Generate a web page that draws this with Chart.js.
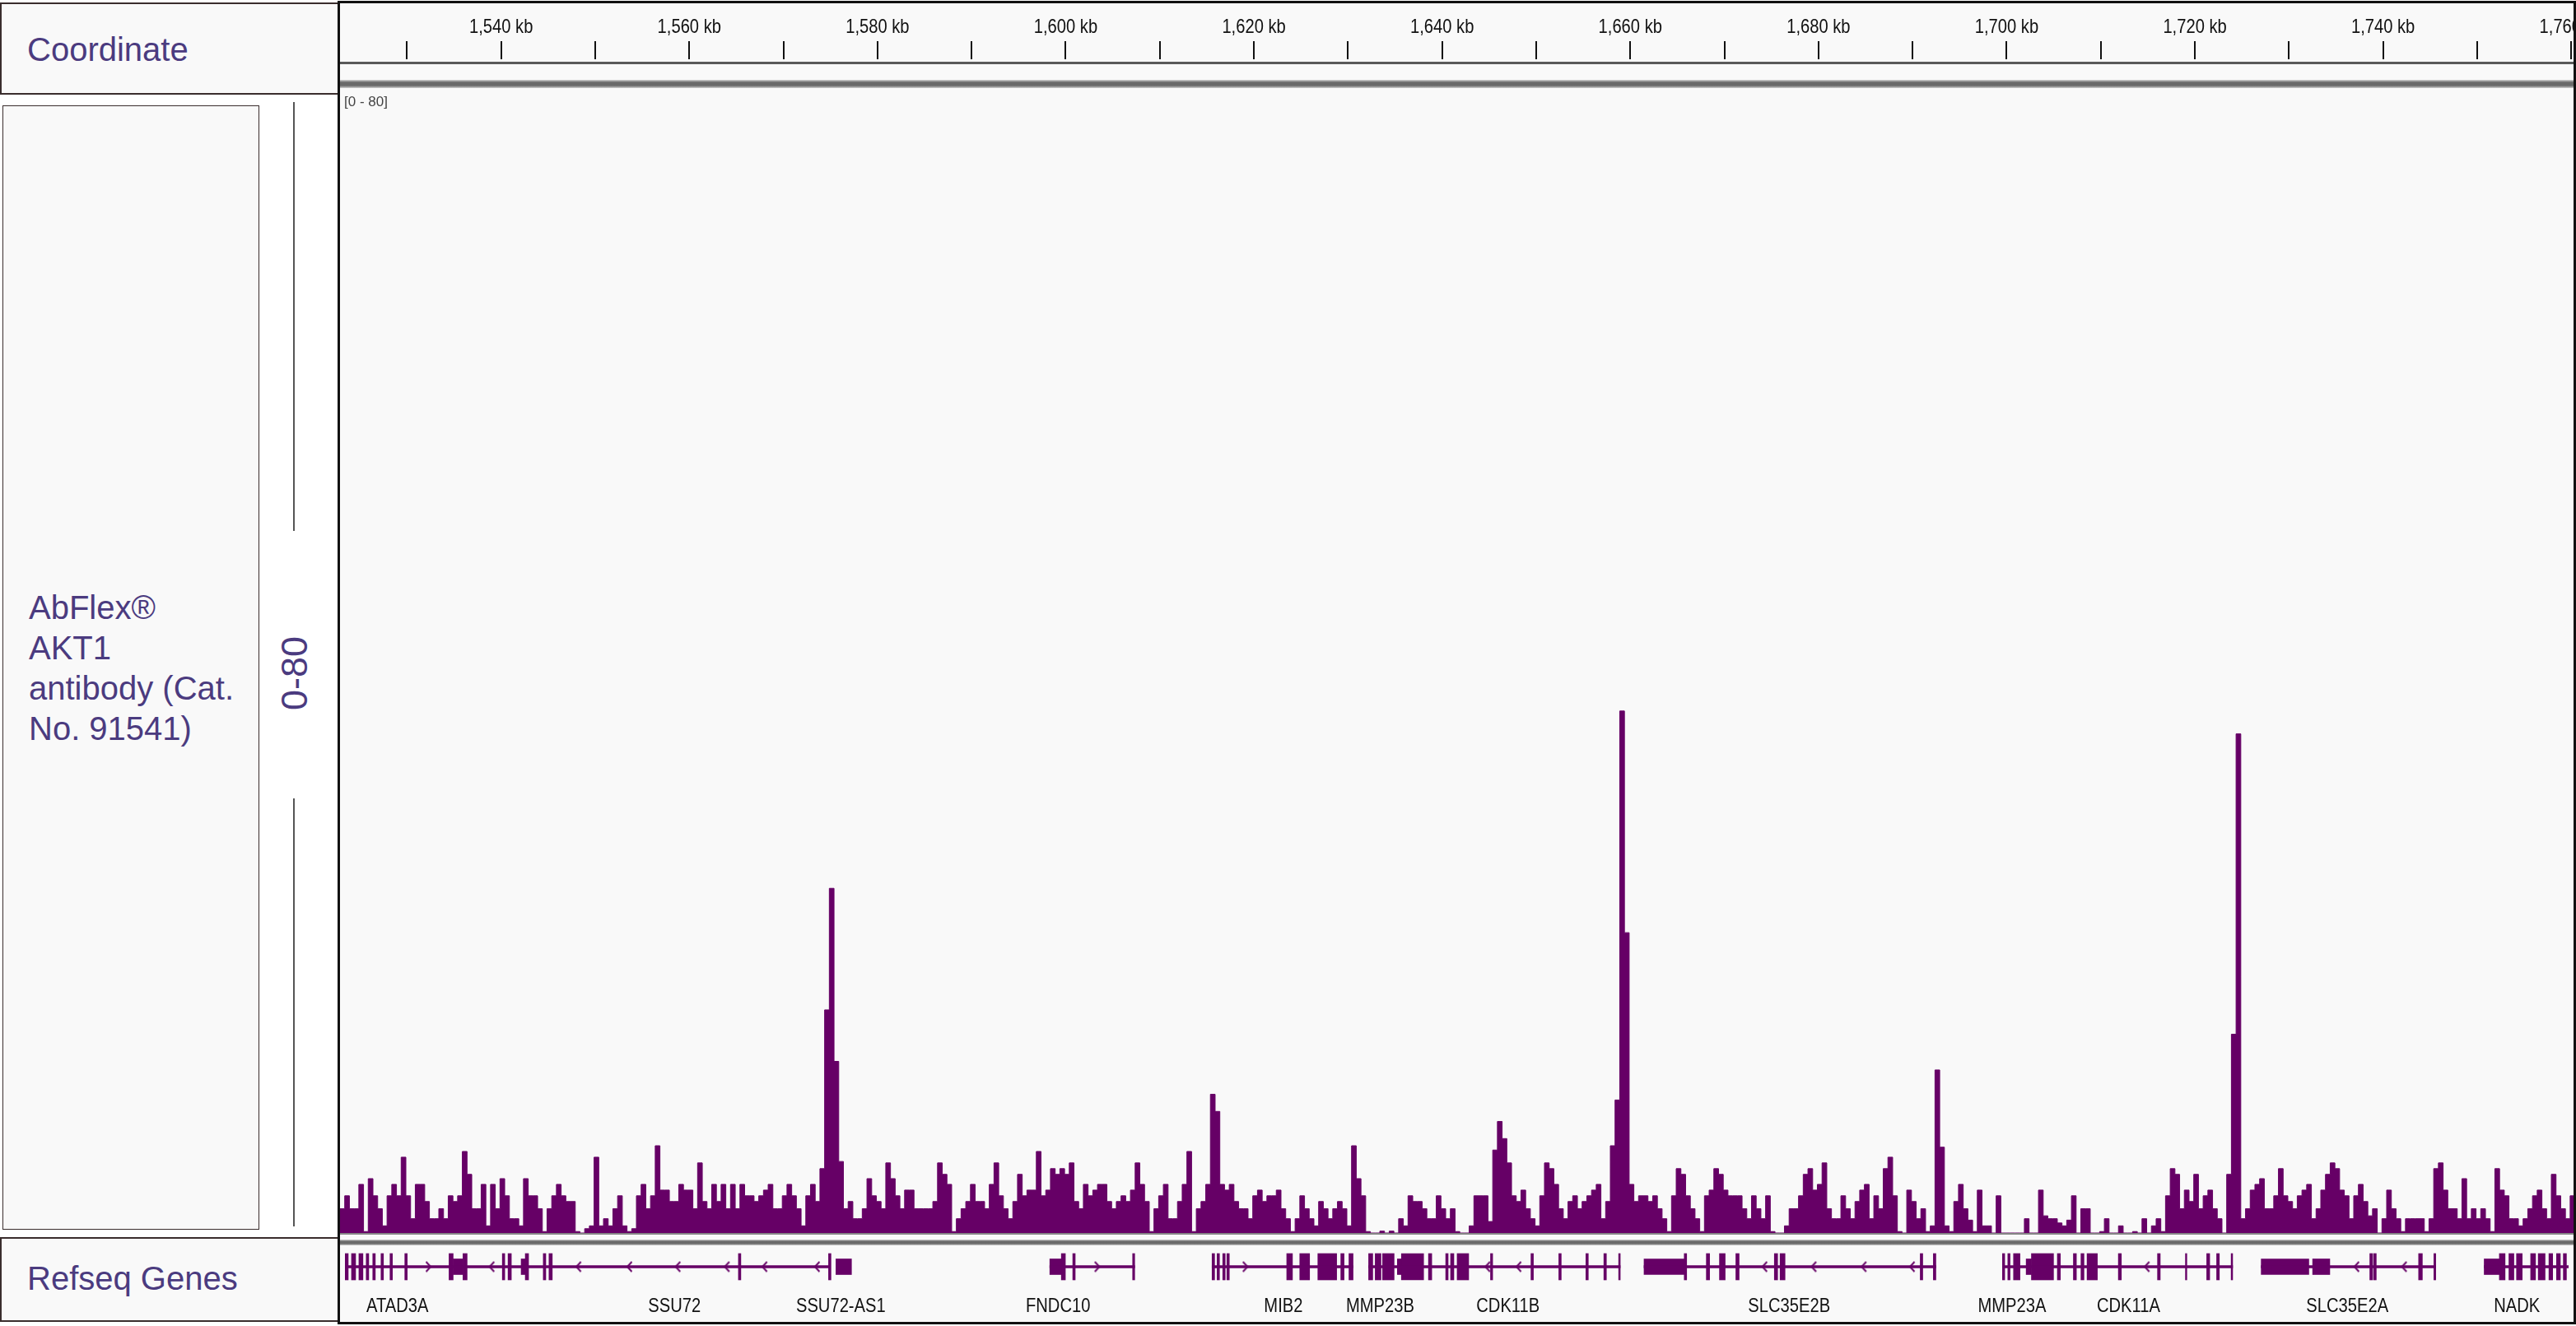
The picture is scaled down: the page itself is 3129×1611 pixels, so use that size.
<!DOCTYPE html>
<html>
<head>
<meta charset="utf-8">
<script src="https://cdn.jsdelivr.net/npm/chart.js@4.4.1/dist/chart.umd.min.js"></script>
<style>
html,body{margin:0;padding:0;background:#fff;}
#page{position:relative;width:3129px;height:1611px;overflow:hidden;background:#fff;font-family:"Liberation Sans",Arial,sans-serif;}
.box{position:absolute;box-sizing:border-box;background:#f9f9f9;border:2px solid #3a2d2d;}
.ptxt{position:absolute;color:#4b3b7f;font-size:40px;line-height:49px;white-space:nowrap;}
canvas{position:absolute;}
.deco{position:absolute;}
</style>
</head>
<body>
<div id="page">
  <div class="box" style="left:0;top:3px;width:412px;height:112px;"></div>
  <div class="ptxt" style="left:33px;top:36px;">Coordinate</div>

  <div class="box" style="left:3px;top:128px;width:312px;height:1366px;border-width:1.5px;"></div>
  <div class="ptxt" style="left:35px;top:714px;">AbFlex®<br>AKT1<br>antibody (Cat.<br>No. 91541)</div>

  <div class="deco" style="left:356px;top:124px;width:2px;height:521px;background:#555;"></div>
  <div class="deco" style="left:356px;top:970px;width:2px;height:520px;background:#555;"></div>
  <div class="ptxt" style="left:357px;top:818px;font-size:45px;line-height:45px;transform:translate(-50%,-50%) rotate(-90deg);">0-80</div>

  <div class="box" style="left:0;top:1503px;width:412px;height:103px;"></div>
  <div class="ptxt" style="left:33px;top:1529px;">Refseq Genes</div>

  <div class="deco" style="left:410px;top:1px;width:2719px;height:1608px;background:#f9f9f9;z-index:0;"></div>

  <canvas id="ruler" width="2713" height="76" style="left:413px;top:4px;z-index:1;"></canvas>
  <canvas id="signal" width="2713" height="1390" style="left:413px;top:108px;z-index:1;"></canvas>
  <canvas id="genes" width="2713" height="100" style="left:413px;top:1511px;z-index:1;"></canvas>

  <div class="deco" style="left:412px;top:75px;width:2714px;height:3px;background:#5a5a5a;z-index:2;"></div>
  <div class="deco" style="left:412px;top:97px;width:2714px;height:10px;background:linear-gradient(#d6d6d6,#6a6a6a 30%,#6a6a6a 70%,#cfcfcf);z-index:2;"></div>
  <div id="rangeLbl" class="deco" style="left:418px;top:114px;font-size:18px;color:#444;z-index:2;">[0 - 80]</div>
  <div class="deco" style="left:412px;top:1498px;width:2714px;height:2px;background:#858585;z-index:2;"></div>
  <div class="deco" style="left:412px;top:1506px;width:2714px;height:7px;background:linear-gradient(#d6d6d6,#6a6a6a 30%,#6a6a6a 70%,#cfcfcf);z-index:2;"></div>

  <div class="deco" style="left:410px;top:1px;width:2719px;height:1608px;box-sizing:border-box;border:3px solid #111;z-index:3;"></div>
</div>

<script>
// ---------------- data ----------------
const viewStartKb = 1522.88;
const viewEndKb = 1760.24;
const binStartKb = 1522.88;
const binWidthKb = 0.5;
const trackMax = 80;

const signal = [
1.7,2.6,1.7,1.7,3.4,0.1,3.8,2.6,1.7,0.5,2.6,3.4,2.6,5.3,2.6,1.0,3.4,3.4,2.2,1.0,
1.0,1.7,1.0,2.6,2.2,2.6,5.7,4.1,1.7,1.7,3.4,0.5,3.4,1.7,3.8,2.6,1.0,1.0,0.5,3.8,
2.6,2.6,1.7,0.1,1.7,2.6,3.4,2.6,2.2,2.2,0.1,0,0.3,0.5,5.3,0.5,1.0,0.5,1.7,2.6,
0.5,0.1,0.3,2.6,3.4,1.7,2.6,6.1,3.0,3.0,2.2,2.2,3.4,3.0,3.0,1.7,4.9,2.2,1.7,3.4,
2.2,3.4,1.7,3.4,1.7,3.4,2.6,2.6,2.2,2.6,3.0,3.4,1.7,1.7,2.6,3.4,2.6,1.7,0.5,2.6,
3.4,2.2,4.5,15.6,24.1,12.0,5.0,1.7,2.2,1.0,1.0,1.7,3.8,2.6,2.2,1.7,4.9,3.8,2.6,1.7,
3.0,3.0,1.7,1.7,1.7,1.7,2.2,4.9,4.1,3.4,0.1,1.0,1.7,2.2,3.4,2.2,2.2,1.7,3.4,4.9,
2.6,1.7,1.0,2.2,4.1,2.6,3.0,3.0,5.7,2.6,3.0,4.5,4.1,4.5,4.1,4.9,2.2,1.7,3.4,2.6,
3.0,3.4,3.4,2.2,1.7,2.2,2.6,2.2,3.0,4.9,3.4,2.2,0.1,1.7,2.6,3.4,1.0,1.0,2.2,3.4,
5.7,0.1,1.7,2.2,3.4,9.7,8.5,3.4,3.0,3.4,2.2,1.7,1.7,1.0,2.6,3.0,2.2,2.6,2.6,3.0,
1.7,1.0,0.1,1.0,2.6,1.7,1.0,0.5,2.2,1.7,1.0,1.7,2.2,1.7,0.5,6.1,3.8,2.6,0.1,0,
0,0.13,0,0.13,0,1.0,0.5,2.6,2.2,2.2,1.7,1.0,1.0,2.6,1.7,1.0,1.7,0.1,0,0,
0.5,2.6,2.6,2.6,0.8,5.8,7.8,6.6,4.9,2.6,2.2,3.0,1.7,1.0,0.5,2.6,4.9,4.5,3.4,1.7,
1.0,2.2,2.6,1.7,2.2,2.6,3.0,3.4,1.0,2.2,6.1,9.3,36.5,21.0,3.4,2.2,2.6,2.6,2.2,2.6,
1.7,1.0,0.1,2.6,4.5,4.1,2.6,1.7,1.0,0.1,2.6,3.0,4.5,4.1,3.0,2.6,2.6,2.6,1.7,1.0,
2.6,1.7,1.0,2.6,0.1,0,0,0.5,1.7,1.7,2.6,4.1,4.5,3.0,3.4,4.9,1.7,1.0,1.0,2.6,
1.7,1.0,2.2,3.0,3.4,1.0,2.6,1.7,4.5,5.3,2.6,0.1,0,3.0,2.2,1.0,1.7,0.1,0.5,11.4,
6.0,0.5,0.1,2.2,3.4,1.7,0.9,0.1,3.0,0.5,0.5,0,2.6,0,0,0,0,0,1.0,0,
0,3.0,1.2,1.0,1.0,0.7,0.5,0.9,2.6,0,1.7,1.7,0,0,0.1,1.0,0,0,0.5,0,
0,0.1,0,1.0,0,0.5,1.0,0.1,2.6,4.5,4.1,1.7,3.0,2.2,4.1,1.7,2.6,3.0,1.7,1.0,
0,4.1,13.9,34.9,1.0,1.7,3.0,3.4,3.8,1.7,1.7,2.6,4.5,2.6,2.2,1.7,2.6,3.0,3.4,1.0,
1.7,3.0,4.1,4.9,4.5,3.0,2.6,1.0,2.6,3.4,2.2,1.2,1.7,0,1.0,3.0,1.7,1.0,0.1,1.0,
1.0,1.0,1.0,0.1,1.0,4.5,4.9,3.0,1.7,1.7,1.0,3.8,1.0,1.7,1.0,1.7,1.0,0.1,4.5,3.0,
2.6,1.0,1.0,0.5,1.0,1.7,2.6,3.0,1.7,1.0,4.1,2.6,1.7,1.0,2.6
];

// gene model (kb)
const intronSpans = [
[1522.88,1574.59],[1598.12,1607.18],[1615.44,1630.49],[1632.15,1659.01],
[1661.55,1692.70],[1699.81,1724.38],[1727.43,1746.06],[1751.23,1760.24]
];
const exonSpans = [
[1522.88,1523.23],[1523.58,1524.02],[1524.37,1524.80],[1525.15,1525.42],[1525.85,1526.12],[1526.73,1526.99],[1527.69,1527.95],[1529.27,1529.53],
[1533.99,1534.43],[1535.48,1535.92],
[1539.68,1539.94],[1540.29,1540.64],[1542.13,1542.48],[1544.05,1544.32],[1544.66,1545.01],
[1564.88,1565.14],[1574.50,1574.76],
[1599.35,1599.78],[1600.57,1600.83],[1606.96,1607.18],
[1615.44,1615.71],[1615.97,1616.23],[1616.58,1616.84],[1617.02,1617.28],
[1623.41,1624.02],[1624.80,1625.85],[1626.73,1628.74],[1629.18,1629.53],[1630.05,1630.49],
[1632.15,1632.59],[1632.85,1633.47],[1633.64,1634.87],[1635.65,1638.02],[1638.54,1638.89],[1640.38,1640.64],[1640.90,1641.25],[1641.60,1642.83],
[1645.16,1645.39],[1649.48,1649.74],[1652.45,1652.71],[1655.34,1655.60],[1657.26,1657.53],[1658.84,1659.01],
[1665.84,1666.10],[1668.20,1668.55],[1669.60,1670.21],[1671.35,1671.70],[1675.46,1675.81],[1676.07,1676.60],[1691.03,1691.30],[1692.43,1692.70],
[1699.81,1700.05],[1700.38,1700.62],[1700.99,1701.68],
[1702.90,1705.26],[1705.67,1705.99],[1707.38,1707.70],[1708.19,1708.51],[1708.84,1709.94],[1712.18,1712.50],[1716.36,1716.65],[1719.34,1719.49],[1721.61,1721.93],[1722.67,1722.96],[1724.22,1724.38],
[1739.02,1739.31],[1739.42,1739.71],[1744.23,1744.63],[1745.86,1746.06],
[1752.85,1753.46],[1753.87,1754.40],[1754.68,1755.29],[1756.19,1756.71],[1757.00,1757.73],[1758.14,1758.54],[1758.95,1759.36],[1759.68,1760.01]
];
const utrSpans = [
[1534.43,1535.48],[1541.69,1542.13],[1575.29,1576.95],[1598.12,1599.35],[1635.22,1635.65],
[1661.55,1665.84],[1702.34,1702.90],[1727.43,1732.51],[1732.92,1734.75],[1751.23,1752.85]
];
const minusStrandArrowsKb = [1538.54,1547.81,1553.24,1558.40,1563.65,1567.67,1573.27,1644.84,1648.16,1674.41,1679.66,1685.00,1690.16,1715.22,1737.60,1742.68];
const plusStrandArrowsKb = [1531.80,1603.19,1619.00];

const geneNames = ['ATAD3A','SSU72','SSU72-AS1','FNDC10','MIB2','MMP23B','CDK11B','SLC35E2B','MMP23A','CDK11A','SLC35E2A','NADK'];
const geneLabelKb = [1528.48,1558.05,1575.81,1599.00,1623.05,1633.38,1647.03,1677.04,1700.83,1713.26,1736.62,1754.73];

// ---------------- styles ----------------
const PURPLE = '#660066';

function hasFont(name){
  const c = document.createElement('canvas').getContext('2d');
  const t = 'ATAD3A 1,540 kb SLC35E2B';
  c.font = '40px monospace';
  const w1 = c.measureText(t).width;
  c.font = '40px "' + name + '", monospace';
  const w2 = c.measureText(t).width;
  return Math.abs(w1 - w2) > 0.5;
}
let narrowFamily = null;
for (const f of ['Liberation Sans Narrow','Arial Narrow','Nimbus Sans Narrow']) {
  if (hasFont(f)) { narrowFamily = f; break; }
}
const labelFamily = narrowFamily ? ('"' + narrowFamily + '"') : '"Liberation Sans", Arial, sans-serif';
const labelSqueeze = narrowFamily ? 1 : 0.84;
document.getElementById('rangeLbl').style.fontFamily = narrowFamily ? ('"' + narrowFamily + '"') : '"Liberation Sans", Arial';
if (!narrowFamily) document.getElementById('rangeLbl').style.fontSize = '17px';

function drawNarrowText(ctx, text, px, py, size){
  ctx.save();
  ctx.translate(px, py);
  ctx.scale(labelSqueeze, 1);
  ctx.font = size + 'px ' + labelFamily;
  ctx.fillStyle = '#111';
  ctx.textAlign = 'center';
  ctx.textBaseline = 'middle';
  ctx.fillText(text, 0, 0);
  ctx.restore();
}

const common = {
  responsive: false,
  animation: false,
  devicePixelRatio: 1,
  events: [],
  layout: {padding: 0},
  plugins: {legend: {display: false}, tooltip: {enabled: false}}
};

// ---------------- ruler ----------------
// tick labels come from the scale; they are painted condensed (IGV style) by this plugin
const rulerLabelPlugin = {
  id: 'rulerLabels',
  afterDraw(chart){
    const s = chart.scales.x;
    s.ticks.forEach((t, i) => {
      if (!t.label) return;
      drawNarrowText(chart.ctx, t.label, s.getPixelForTick(i), 29, 24);
    });
  }
};

new Chart(document.getElementById('ruler'), {
  type: 'line',
  data: {datasets: []},
  options: Object.assign({}, common, {
    scales: {
      x: {
        type: 'linear', position: 'top', min: viewStartKb, max: viewEndKb, offset: false,
        afterFit(s){ s.paddingLeft = 0; s.paddingRight = 0; s.height = 68; },
        border: {display: false},
        grid: {display: true, drawOnChartArea: false, drawTicks: true, tickLength: 22, tickWidth: 2, lineWidth: 2, tickColor: '#111', color: '#111'},
        ticks: {
          stepSize: 10, autoSkip: false, maxRotation: 0, minRotation: 0, includeBounds: false,
          padding: 3, color: 'rgba(0,0,0,0)', font: {family: 'Liberation Sans, Arial, sans-serif', size: 20},
          callback: (v) => (Math.round(v) % 20 === 0) ? Math.round(v).toLocaleString('en-US') + ' kb' : ''
        }
      },
      y: {display: false, min: 0, max: 1}
    }
  }),
  plugins: [rulerLabelPlugin]
});

// ---------------- signal track ----------------
const signalPoints = signal.map((v, i) => ({x: binStartKb + i * binWidthKb, y: v}));
signalPoints.push({x: binStartKb + signal.length * binWidthKb, y: signal[signal.length - 1]});

new Chart(document.getElementById('signal'), {
  type: 'line',
  data: {datasets: [{
    data: signalPoints, stepped: 'before', fill: 'origin',
    backgroundColor: PURPLE, borderColor: PURPLE, borderWidth: 1,
    pointRadius: 0, tension: 0
  }]},
  options: Object.assign({}, common, {
    scales: {
      x: {type: 'linear', display: false, min: viewStartKb, max: viewEndKb, offset: false},
      y: {type: 'linear', display: false, min: 0, max: trackMax}
    }
  })
});

// ---------------- gene track ----------------
function chevron(dir){
  const c = document.createElement('canvas');
  c.width = 9; c.height = 15;
  const g = c.getContext('2d');
  g.strokeStyle = PURPLE; g.lineWidth = 2;
  g.beginPath();
  if (dir < 0) { g.moveTo(7.5, 1.5); g.lineTo(2, 7.5); g.lineTo(7.5, 13.5); }
  else { g.moveTo(1.5, 1.5); g.lineTo(7, 7.5); g.lineTo(1.5, 13.5); }
  g.stroke();
  return c;
}

const geneLabelPlugin = {
  id: 'geneLabels',
  afterDatasetsDraw(chart){
    const {ctx, scales: {x, y}} = chart;
    const yy = y.getPixelForValue(1) + 4;
    geneNames.forEach((n, i) => drawNarrowText(ctx, n, x.getPixelForValue(geneLabelKb[i]), yy, 24));
  }
};

const spanData = (arr) => arr.map(s => ({x: [s[0], s[1]], y: 'genes'}));

new Chart(document.getElementById('genes'), {
  type: 'bar',
  data: {datasets: [
    {type: 'bar', indexAxis: 'y', grouped: false, data: spanData(intronSpans), barThickness: 3, backgroundColor: PURPLE, borderWidth: 0, borderSkipped: false},
    {type: 'bar', indexAxis: 'y', grouped: false, data: spanData(utrSpans), barThickness: 19, backgroundColor: PURPLE, borderWidth: 0, borderSkipped: false},
    {type: 'bar', indexAxis: 'y', grouped: false, data: spanData(exonSpans), barThickness: 32, backgroundColor: PURPLE, borderWidth: 0, borderSkipped: false},
    {type: 'scatter', data: minusStrandArrowsKb.map(k => ({x: k, y: 'genes'})), pointStyle: chevron(-1), pointRadius: 5, showLine: false},
    {type: 'scatter', data: plusStrandArrowsKb.map(k => ({x: k, y: 'genes'})), pointStyle: chevron(1), pointRadius: 5, showLine: false}
  ]},
  options: Object.assign({}, common, {
    scales: {
      x: {type: 'linear', display: false, min: viewStartKb, max: viewEndKb, offset: false, grid: {offset: false}},
      y: {type: 'category', display: false, labels: ['genes', 'names'], offset: true}
    }
  }),
  plugins: [geneLabelPlugin]
});
</script>
</body>
</html>
